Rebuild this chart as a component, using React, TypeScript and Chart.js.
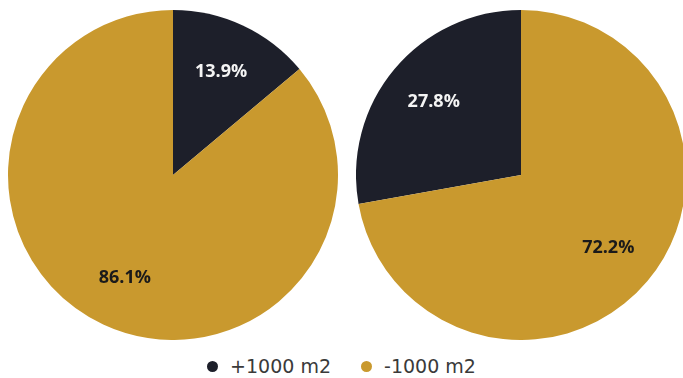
import React, { useEffect, useRef } from "react";
import { Chart, registerables } from "chart.js";

Chart.register(...registerables);

const categories = ["+1000 m2", "-1000 m2"];
const leftValues = [13.9, 86.1];
const rightValues = [27.8, 72.2];
const colors = ["#1d1f2a", "#c9992e"];
const labelColors = ["#f4f4f4", "#1a1a1a"];
const LABEL_FONT = "'Open Sans', 'DejaVu Sans', sans-serif";
const LEGEND_FONT = "'DejaVu Sans', sans-serif";

const labelPlugin = {
  id: "pieLabels",
  afterDatasetsDraw(chart: any) {
    const ctx = chart.ctx;
    const meta = chart.getDatasetMeta(0);
    const data = chart.data.datasets[0].data as number[];
    ctx.save();
    ctx.font = `bold 18px ${LABEL_FONT}`;
    ctx.textAlign = "center";
    ctx.textBaseline = "middle";
    meta.data.forEach((arc: any, i: number) => {
      const p = arc.getProps(["x", "y", "startAngle", "endAngle", "outerRadius"], true);
      const mid = (p.startAngle + p.endAngle) / 2;
      const r = p.outerRadius * 0.69;
      ctx.fillStyle = labelColors[i];
      ctx.fillText(data[i].toFixed(1) + "%", p.x + Math.cos(mid) * r, p.y + Math.sin(mid) * r);
    });
    ctx.restore();
  },
};

function Pie({ values, rotation, left, top }: { values: number[]; rotation: number; left: number; top: number }) {
  const ref = useRef<HTMLCanvasElement>(null);
  useEffect(() => {
    const chart = new Chart(ref.current!, {
      type: "pie",
      data: {
        labels: categories,
        datasets: [{ data: values, backgroundColor: colors, borderWidth: 0 }],
      },
      options: {
        responsive: false,
        animation: false,
        rotation,
        layout: { padding: 0 },
        plugins: { legend: { display: false }, tooltip: { enabled: false } },
      },
      plugins: [labelPlugin],
    });
    return () => chart.destroy();
  }, []);
  return (
    <canvas
      ref={ref}
      width={330}
      height={330}
      style={{ position: "absolute", left, top, width: 330, height: 330 }}
    />
  );
}

export default function App() {
  return (
    <div
      style={{
        position: "fixed",
        left: 0,
        top: 0,
        width: 683,
        height: 378,
        background: "#fff",
        overflow: "hidden",
      }}
    >
      <Pie values={leftValues} rotation={0} left={8} top={10} />
      <Pie values={rightValues} rotation={-rightValues[0] * 3.6} left={356} top={10} />
      <div
        style={{
          position: "absolute",
          left: 0,
          top: 354,
          width: 683,
          height: 24,
          display: "flex",
          justifyContent: "center",
          alignItems: "center",
          fontFamily: LEGEND_FONT,
          fontSize: 19,
          lineHeight: "24px",
          color: "#3a3a3a",
          gap: 30,
        }}
      >
        {categories.map((c, i) => (
          <div key={c} style={{ display: "flex", alignItems: "center" }}>
            <span
              style={{
                display: "inline-block",
                width: 11,
                height: 11,
                borderRadius: 6,
                background: colors[i],
                marginRight: 12,
              }}
            />
            <span>{c}</span>
          </div>
        ))}
      </div>
    </div>
  );
}
